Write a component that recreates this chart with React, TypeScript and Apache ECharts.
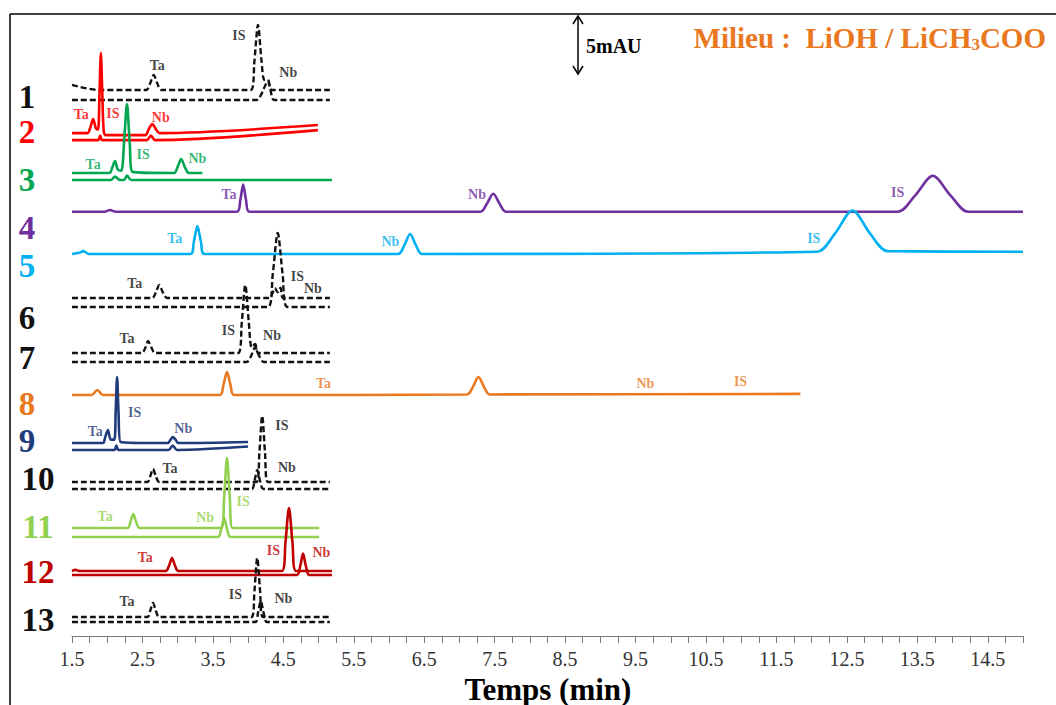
import React, { useEffect, useRef } from "react";
import * as echarts from "echarts";

// ---------- data ----------
const X_TICK_LABELS = ["1.5","2.5","3.5","4.5","5.5","6.5","7.5","8.5","9.5","10.5","11.5","12.5","13.5","14.5"];
const TRACE_NUMBERS = ["1","2","3","4","5","6","7","8","9","10","11","12","13"];
const X_AXIS_TITLE = "Temps (min)";

// points: [time (min), signal above trace baseline (mAU)]
const trace1a = [[1.5,0.45],[1.88,0],[2.55,0],[2.61,0.6],[2.66,1.33],[2.71,0.6],[2.77,0],[4.04,0],[4.09,2.6],[4.14,5.75],[4.19,2.6],[4.23,0.9],[4.28,0.9],[4.34,0],[5.16,0]];
const trace1b = [[1.5,0],[4.12,0],[4.18,0.4],[4.23,1.1],[4.28,1.68],[4.32,0.8],[4.37,0],[5.16,0]];
const trace2a = [[1.5,0],[1.72,0],[1.76,0.5],[1.8,1.24],[1.84,0.4],[1.87,0.3],[1.89,3.5],[1.91,7.07],[1.93,3.5],[1.95,0.2],[1.98,-0.18],[2.54,-0.18],[2.59,0.35],[2.64,0.8],[2.69,0.35],[2.74,0],[4.99,0.71]];
const trace2b = [[1.5,0],[1.87,0],[1.9,0.4],[1.93,0],[2.56,0],[2.62,0.4],[2.68,0],[4.99,0.88]];
const trace3a = [[1.5,0],[2.03,0],[2.07,0.45],[2.11,1.06],[2.15,0.3],[2.2,0.2],[2.24,2.8],[2.28,6.1],[2.32,2.6],[2.36,0.1],[2.95,0],[3.0,0.55],[3.05,1.24],[3.1,0.55],[3.16,0],[3.35,0]];
const trace3b = [[1.5,0],[2.05,0],[2.11,0.3],[2.18,0],[2.24,0],[2.28,0.4],[2.34,0],[5.19,0]];
const trace4 = [[1.5,0],[1.96,0],[2.04,0.15],[2.12,0],[3.84,0],[3.89,1.05],[3.93,2.39],[3.97,1.05],[4.02,0],[7.3,0],[7.39,0.7],[7.48,1.59],[7.57,0.7],[7.66,0],[13.22,0],[13.47,1.45],[13.72,3.18],[13.97,1.45],[14.22,0],[15.0,0]];
const trace5 = [[1.5,0],[1.6,0.1],[1.66,0.25],[1.74,0],[3.18,0],[3.23,1.1],[3.28,2.48],[3.33,1.1],[3.38,0],[6.13,0],[6.22,0.8],[6.3,1.77],[6.38,0.8],[6.47,0],[12.08,0.2],[12.33,1.8],[12.58,3.85],[12.83,1.8],[13.08,0.25],[15.0,0.2]];
const trace6a = [[1.5,0],[2.64,0],[2.69,0.5],[2.74,1.15],[2.79,0.5],[2.85,0],[4.3,0],[4.35,0.5],[4.38,0.88],[4.42,0.5],[4.46,0.9],[4.5,0],[5.16,0]];
const trace6b = [[1.5,0],[4.28,0],[4.35,2.9],[4.42,6.54],[4.49,2.9],[4.56,0],[5.16,0]];
const trace7a = [[1.5,0],[2.49,0],[2.54,0.45],[2.58,1.06],[2.63,0.45],[2.68,0],[3.86,0],[3.91,2.7],[3.96,6.01],[4.01,2.7],[4.05,0.5],[4.1,0.8],[4.15,0],[5.16,0]];
const trace7b = [[1.5,0],[3.98,0],[4.04,0.5],[4.1,1.3],[4.16,0.5],[4.22,0],[5.16,0]];
const trace8 = [[1.5,0],[1.78,0],[1.86,0.44],[1.94,0],[3.6,0],[3.65,0.9],[3.7,2.03],[3.75,0.9],[3.8,0],[7.11,0.05],[7.19,0.7],[7.27,1.59],[7.35,0.7],[7.43,0.05],[11.84,0.1]];
const trace9a = [[1.5,0],[1.94,0],[1.97,0.5],[2.01,1.15],[2.05,0.3],[2.1,0.3],[2.12,2.8],[2.14,5.84],[2.16,2.8],[2.19,0.1],[2.86,0],[2.9,0.3],[2.93,0.53],[2.97,0.3],[3.01,0],[4.0,0.1]];
const trace9b = [[1.5,0],[2.1,0],[2.13,0.4],[2.16,0],[2.87,0],[2.93,0.4],[2.99,0],[4.0,0.3]];
const trace10a = [[1.5,0],[2.57,0],[2.61,0.5],[2.65,1.15],[2.69,0.5],[2.74,0],[4.12,0],[4.16,2.6],[4.2,5.84],[4.24,2.6],[4.28,0],[5.16,0]];
const trace10b = [[1.5,0],[4.05,0],[4.09,0.7],[4.13,1.68],[4.17,0.7],[4.22,0],[5.16,0]];
const trace11a = [[1.5,0],[2.29,0],[2.33,0.55],[2.37,1.24],[2.41,0.55],[2.46,0],[3.62,0],[3.66,2.7],[3.7,6.19],[3.74,2.7],[3.78,0],[5.01,0]];
const trace11b = [[1.5,0],[3.57,0],[3.62,0.75],[3.66,1.68],[3.7,0.75],[3.75,0],[5.01,0]];
const trace12a = [[1.5,0],[1.55,0.1],[1.6,0],[2.83,0],[2.88,0.5],[2.92,1.15],[2.96,0.5],[3.01,0],[4.48,0],[4.53,2.5],[4.58,5.57],[4.63,2.5],[4.68,0],[5.19,0]];
const trace12b = [[1.5,0],[4.69,0],[4.74,0.8],[4.78,1.9],[4.82,0.8],[4.87,0],[5.19,0]];
const trace13a = [[1.5,0],[2.57,0],[2.61,0.55],[2.65,1.24],[2.69,0.55],[2.74,0],[4.05,0],[4.09,2.3],[4.13,5.22],[4.17,2.3],[4.21,0],[5.16,0]];
const trace13b = [[1.5,0],[4.1,0],[4.14,0.8],[4.18,1.86],[4.22,0.8],[4.27,0],[5.16,0]];

// baseline offsets (mAU) of each line in the stack
const offsets = {
  t1a: 48.28, t1b: 47.4, t2a: 44.47, t2b: 43.85, t3a: 40.94, t3b: 40.32,
  t4: 37.52, t5: 33.78, t6a: 29.89, t6b: 29.09, t7a: 25.02, t7b: 24.23,
  t8: 21.31, t9a: 17.06, t9b: 16.45, t10a: 13.62, t10b: 13.0,
  t11a: 9.55, t11b: 8.75, t12a: 5.75, t12b: 5.39, t13a: 1.68, t13b: 1.24,
};

// peak labels: [text, time, signal (mAU)]
const peakLabels1 = [["Ta",2.71,50.49],["IS",3.87,53.14],["Nb",4.57,49.87]];
const peakLabels2 = [["Ta",1.63,46.07],["IS",2.08,46.24],["Nb",2.76,45.89]];
const peakLabels3 = [["Ta",1.8,41.73],["IS",2.51,42.62],["Nb",3.28,42.26]];
const peakLabels4 = [["Ta",3.73,39.0],["Nb",7.25,39.08],["IS",13.22,39.26]];
const peakLabels5 = [["Ta",2.96,35.19],["Nb",6.02,34.92],["IS",12.03,35.19]];
const peakLabels6 = [["Ta",2.39,31.21],["IS",4.7,31.83],["Nb",4.92,30.77]];
const peakLabels7 = [["Ta",2.28,26.35],["IS",3.72,26.97],["Nb",4.34,26.61]];
const peakLabels8 = [["Ta",5.07,22.37],["Nb",9.64,22.37],["IS",10.99,22.46]];
const peakLabels9 = [["Ta",1.83,18.04],["IS",2.39,19.72],["Nb",3.08,18.39]];
const peakLabels10 = [["Ta",2.89,14.85],["IS",4.48,18.57],["Nb",4.55,14.94]];
const peakLabels11 = [["Ta",1.97,10.61],["Nb",3.39,10.52],["IS",3.93,11.85]];
const peakLabels12 = [["Ta",2.54,6.9],["IS",4.36,7.6],["Nb",5.04,7.34]];
const peakLabels13 = [["Ta",2.28,3.01],["IS",3.82,3.71],["Nb",4.5,3.36]];

// ---------- styles ----------
const SERIF = "'Liberation Serif', 'Times New Roman', serif";
const BLACK = "#111111";
const RED = "#FF0000";
const GREEN = "#00A650";
const PURPLE = "#7030A0";
const CYAN = "#00B0F0";
const ORANGE = "#E9781F";
const NAVY = "#1F3B7A";
const LIGHTGREEN = "#92D050";
const DARKRED = "#C00000";
const TRACE_COLORS = [BLACK, RED, GREEN, PURPLE, CYAN, BLACK, BLACK, ORANGE, NAVY, BLACK, LIGHTGREEN, DARKRED, BLACK];
const NUMBER_POS = [[27,97],[27,132],[27,180],[27,228],[27,266],[27,318],[27,358],[27,404],[27,441],[38,479],[38,527],[38,572],[38,620]];

const lines = [
  { pts: trace1a, off: offsets.t1a, color: BLACK, dashed: true },
  { pts: trace1b, off: offsets.t1b, color: BLACK, dashed: true },
  { pts: trace2a, off: offsets.t2a, color: RED },
  { pts: trace2b, off: offsets.t2b, color: RED },
  { pts: trace3a, off: offsets.t3a, color: GREEN },
  { pts: trace3b, off: offsets.t3b, color: GREEN },
  { pts: trace4, off: offsets.t4, color: PURPLE },
  { pts: trace5, off: offsets.t5, color: CYAN },
  { pts: trace6a, off: offsets.t6a, color: BLACK, dashed: true },
  { pts: trace6b, off: offsets.t6b, color: BLACK, dashed: true },
  { pts: trace7a, off: offsets.t7a, color: BLACK, dashed: true },
  { pts: trace7b, off: offsets.t7b, color: BLACK, dashed: true },
  { pts: trace8, off: offsets.t8, color: ORANGE },
  { pts: trace9a, off: offsets.t9a, color: NAVY },
  { pts: trace9b, off: offsets.t9b, color: NAVY },
  { pts: trace10a, off: offsets.t10a, color: BLACK, dashed: true },
  { pts: trace10b, off: offsets.t10b, color: BLACK, dashed: true },
  { pts: trace11a, off: offsets.t11a, color: LIGHTGREEN },
  { pts: trace11b, off: offsets.t11b, color: LIGHTGREEN },
  { pts: trace12a, off: offsets.t12a, color: DARKRED },
  { pts: trace12b, off: offsets.t12b, color: DARKRED },
  { pts: trace13a, off: offsets.t13a, color: BLACK, dashed: true },
  { pts: trace13b, off: offsets.t13b, color: BLACK, dashed: true },
];

const labelGroups = [peakLabels1, peakLabels2, peakLabels3, peakLabels4, peakLabels5, peakLabels6, peakLabels7, peakLabels8, peakLabels9, peakLabels10, peakLabels11, peakLabels12, peakLabels13];

function buildOption() {
  const lineSeries = lines.map((l) => ({
    type: "line",
    data: l.pts.map(([t, v]) => [t, v + l.off]),
    symbol: "none",
    smooth: 0.3,
    silent: true,
    lineStyle: { color: l.color, width: l.dashed ? 2.4 : 2.6, type: l.dashed ? [6, 3] : "solid" },
  }));
  const labelData: any[] = [];
  labelGroups.forEach((g, i) => {
    g.forEach(([txt, t, v]) => {
      labelData.push({ name: txt, value: [t, v], label: { color: TRACE_COLORS[i] } });
    });
  });
  const labelSeries = {
    type: "scatter",
    data: labelData,
    symbolSize: 0,
    silent: true,
    z: 5,
    label: {
      show: true,
      position: "inside",
      formatter: "{b}",
      fontFamily: SERIF,
      fontWeight: "bold",
      fontSize: 14,
    },
  };

  const graphics: any[] = [
    { type: "line", shape: { x1: 10, y1: 14, x2: 1056, y2: 14 }, style: { stroke: "#000", lineWidth: 1.5 } },
    { type: "line", shape: { x1: 10, y1: 14, x2: 10, y2: 705 }, style: { stroke: "#000", lineWidth: 1.5 } },
    { type: "line", shape: { x1: 578, y1: 17, x2: 578, y2: 72 }, style: { stroke: "#000", lineWidth: 1.5 } },
    { type: "polyline", shape: { points: [[573, 24], [578, 16], [583, 24]] }, style: { stroke: "#000", lineWidth: 1.5, fill: null } },
    { type: "polyline", shape: { points: [[573, 66], [578, 74], [583, 66]] }, style: { stroke: "#000", lineWidth: 1.5, fill: null } },
    { type: "text", x: 586, y: 46, style: { text: "5mAU", fontFamily: SERIF, fontWeight: "bold", fontSize: 20, fill: "#000", verticalAlign: "middle", align: "left" } },
    { type: "text", x: 548, y: 689, style: { text: X_AXIS_TITLE, fontFamily: SERIF, fontWeight: "bold", fontSize: 31, fill: "#000", verticalAlign: "middle", align: "center" } },
  ];
  TRACE_NUMBERS.forEach((n, i) => {
    graphics.push({
      type: "text", x: NUMBER_POS[i][0], y: NUMBER_POS[i][1],
      style: { text: n, fontFamily: SERIF, fontWeight: "bold", fontSize: 33, fill: TRACE_COLORS[i], align: "center", verticalAlign: "middle" },
    });
  });

  return {
    animation: false,
    backgroundColor: "#ffffff",
    title: {
      text: "{a|Milieu :  LiOH / LiCH}{s|3}{a|COO}",
      right: 10,
      top: 22,
      padding: 0,
      textStyle: {
        rich: {
          a: { fontFamily: SERIF, fontWeight: "bold", fontSize: 29, color: ORANGE, lineHeight: 32 },
          s: { fontFamily: SERIF, fontWeight: "bold", fontSize: 17, color: ORANGE, lineHeight: 32, padding: [13, 0, 0, 0] },
        },
      },
    },
    grid: { left: 72, right: 33, top: 14, bottom: 69, containLabel: false, outerBoundsMode: "none" },
    xAxis: {
      type: "value",
      min: 1.5,
      max: 15,
      interval: 0.25,
      axisLine: { show: true, onZero: false, lineStyle: { color: "#777", width: 1 } },
      axisTick: { show: true, length: 7, lineStyle: { color: "#777" } },
      splitLine: { show: false },
      axisLabel: {
        margin: 13,
        fontFamily: SERIF,
        fontSize: 20,
        color: "#333",
        hideOverlap: false,
        showMaxLabel: true,
        formatter: (v: number) => {
          const s = v.toFixed(1);
          return X_TICK_LABELS.includes(s) && Math.abs(((v - 1.5) % 1)) < 1e-6 ? s : "";
        },
      },
    },
    yAxis: { type: "value", min: 0, max: 55, show: false, splitLine: { show: false } },
    graphic: graphics,
    series: [...lineSeries, labelSeries],
  };
}

export default function App() {
  const ref = useRef<HTMLDivElement>(null);
  useEffect(() => {
    if (!ref.current) return;
    const chart = echarts.init(ref.current, undefined, { renderer: "svg" });
    chart.setOption(buildOption() as any);
    return () => chart.dispose();
  }, []);
  return (
    <div
      ref={ref}
      style={{ position: "fixed", left: 0, top: 0, width: 1056, height: 705, background: "#fff" }}
    />
  );
}
